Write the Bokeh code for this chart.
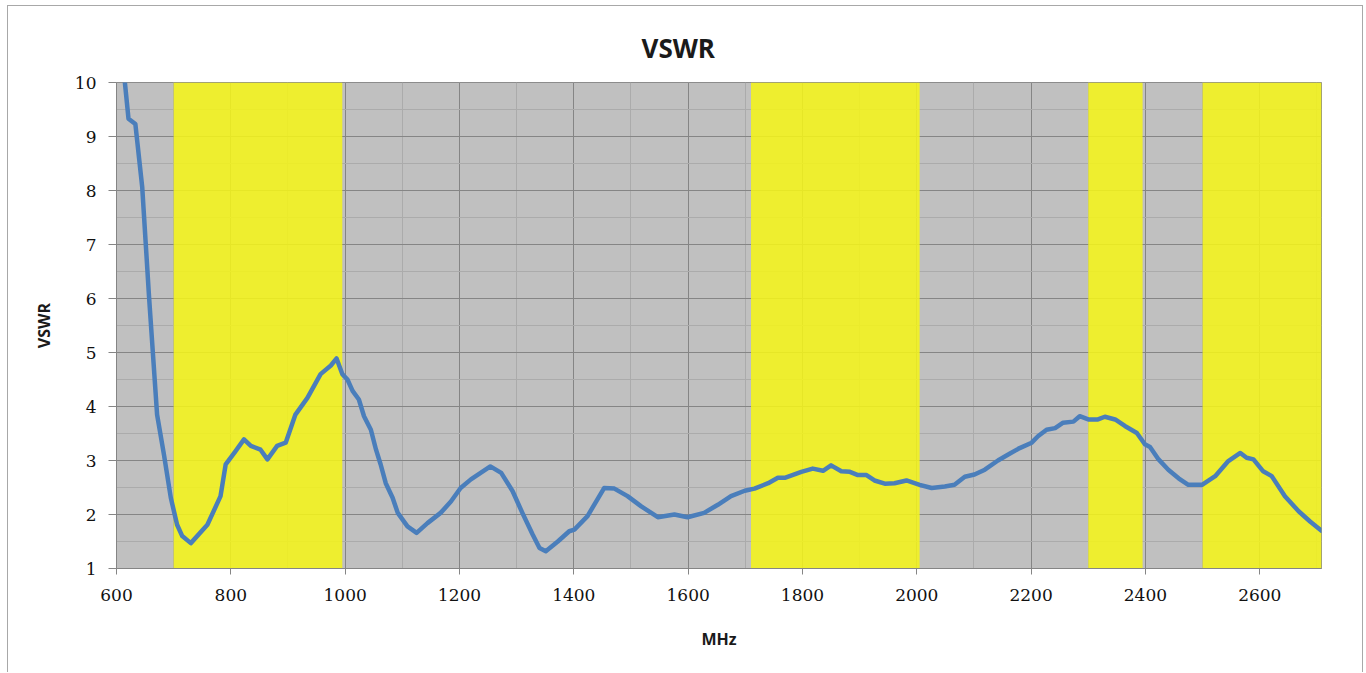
from bokeh.plotting import figure
from bokeh.models import SingleIntervalTicker, Range1d, ColumnDataSource
from bokeh.embed import file_html
from bokeh.resources import INLINE

# ---- data ----
freq_mhz = [609, 621, 633, 645, 657, 671, 683, 695, 706, 715, 730, 759, 782, 791, 808,
            823, 835, 852, 864, 881, 896, 913, 934, 957, 975, 985, 995, 1004, 1013, 1024,
            1033, 1045, 1054, 1062, 1071, 1083, 1092, 1109, 1125, 1144, 1167, 1185, 1202,
            1220, 1237, 1254, 1273, 1293, 1310, 1328, 1340, 1351, 1372, 1392, 1401, 1424,
            1439, 1453, 1471, 1494, 1518, 1547, 1576, 1599, 1628, 1652, 1675, 1699, 1716,
            1740, 1757, 1769, 1798, 1818, 1836, 1850, 1868, 1883, 1897, 1912, 1926, 1944,
            1961, 1982, 2005, 2026, 2049, 2066, 2084, 2101, 2119, 2142, 2160, 2180, 2201,
            2212, 2227, 2242, 2256, 2274, 2285, 2300, 2317, 2329, 2347, 2364, 2385, 2399,
            2408, 2423, 2440, 2458, 2475, 2499, 2522, 2545, 2566, 2577, 2589, 2606, 2621,
            2644, 2668, 2688, 2708]
vswr = [10.6, 9.33, 9.23, 8.06, 6.02, 3.85, 3.11, 2.31, 1.81, 1.60, 1.47, 1.81, 2.34, 2.93, 3.17,
        3.39, 3.27, 3.20, 3.02, 3.27, 3.33, 3.85, 4.16, 4.60, 4.76, 4.89, 4.60, 4.50, 4.29, 4.13,
        3.82, 3.57, 3.20, 2.93, 2.58, 2.31, 2.03, 1.78, 1.66, 1.84, 2.03, 2.24, 2.49,
        2.65, 2.77, 2.89, 2.77, 2.43, 2.03, 1.63, 1.38, 1.32, 1.50, 1.69, 1.72, 1.97,
        2.24, 2.49, 2.48, 2.34, 2.15, 1.95, 2.00, 1.95, 2.03, 2.18, 2.34, 2.44, 2.48,
        2.58, 2.68, 2.68, 2.79, 2.85, 2.81, 2.91, 2.80, 2.79, 2.73, 2.73, 2.63, 2.57,
        2.58, 2.63, 2.55, 2.49, 2.52, 2.55, 2.70, 2.74, 2.83, 3.00, 3.11, 3.23, 3.33,
        3.45, 3.57, 3.60, 3.70, 3.72, 3.82, 3.76, 3.76, 3.81, 3.76, 3.64, 3.51, 3.30,
        3.25, 3.02, 2.83, 2.67, 2.55, 2.55, 2.71, 2.99, 3.14, 3.05, 3.02, 2.80, 2.71,
        2.34, 2.06, 1.87, 1.70]

band_start = [700, 1710, 2300, 2500]
band_end = [995, 2005, 2395, 2708]

x_min, x_max = 600, 2708
y_min, y_max = 1, 10

p = figure(
    output_backend="svg", toolbar_location=None,
    frame_width=1205, frame_height=486,
    min_border_left=108, min_border_right=41, min_border_top=76, min_border_bottom=104,
    x_range=Range1d(x_min, x_max), y_range=Range1d(y_min, y_max),
    title="VSWR",
)
p.styles = {"border": "1px solid #a8a8a8", "border-bottom": "none",
            "margin-left": "7px", "margin-top": "5px"}

p.background_fill_color = "#C0C0C0"
p.border_fill_color = "white"
p.outline_line_color = "#8c8c8c"

# title
p.title.text_font = "Open Sans"
p.title.text_font_style = "bold"
p.title.text_font_size = "26px"
p.title.align = "left"
p.title.offset = 525
p.title.standoff = 33
p.title.text_color = "#1a1a1a"

# tickers
p.xaxis.ticker = SingleIntervalTicker(interval=200, num_minor_ticks=2)
p.yaxis.ticker = SingleIntervalTicker(interval=1, num_minor_ticks=2)

# grids
for g in (p.xgrid, p.ygrid):
    g.grid_line_color = "#858585"
    g.grid_line_width = 1
    g.minor_grid_line_color = "#ababab"
    g.minor_grid_line_width = 1

# axes
for ax in (p.xaxis, p.yaxis):
    ax.axis_line_color = "#858585"
    ax.major_tick_line_color = "#858585"
    ax.minor_tick_line_color = None
    ax.major_tick_in = 0
    ax.major_label_text_font = "DejaVu Serif"
    ax.major_label_text_font_size = "17px"
    ax.major_label_text_color = "#111111"
    ax.axis_label_text_font = "Open Sans"
    ax.axis_label_text_font_style = "bold"
    ax.axis_label_text_font_size = "16px"
    ax.axis_label_text_color = "#1a1a1a"

p.xaxis.major_tick_out = 6
p.xaxis.major_label_standoff = 14
p.xaxis.axis_label = "MHz"
p.xaxis.axis_label_standoff = 24
p.yaxis.major_tick_out = 8
p.yaxis.major_label_standoff = 12
p.yaxis.axis_label = "VSWR"
p.yaxis.axis_label_standoff = 17

# yellow bands
bands = ColumnDataSource(dict(left=band_start, right=band_end,
                              bottom=[y_min] * len(band_start), top=[y_max] * len(band_start)))
p.quad(left="left", right="right", bottom="bottom", top="top", source=bands,
       fill_color="#F4F41A", fill_alpha=0.88, line_color=None)

# curve
p.line(freq_mhz, vswr, line_color="#4A7EBB", line_width=4.5, line_join="round", line_cap="round")

open("out.html", "w").write(file_html(p, INLINE))
